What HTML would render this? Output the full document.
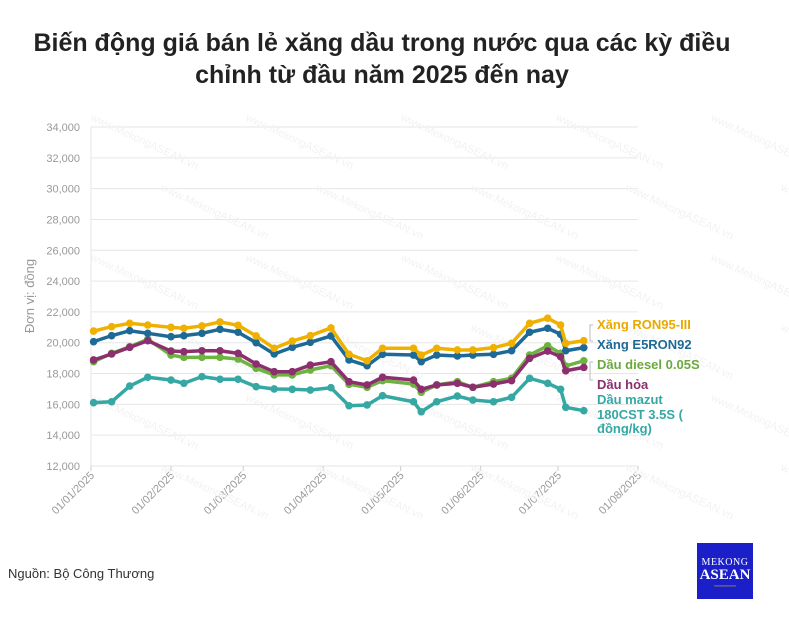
<!DOCTYPE html>
<html><head><meta charset="utf-8"><style>
body{margin:0;width:789px;height:639px;background:#fff;font-family:"Liberation Sans","Noto Sans CJK SC",sans-serif;overflow:hidden;position:relative}
#title{position:absolute;left:0;width:764px;top:27px;text-align:center;font-weight:bold;font-size:25px;line-height:32px;color:#222}
#src{position:absolute;left:8px;top:566px;font-size:13px;color:#333}
#logo{position:absolute;left:697px;top:543px;width:56px;height:56px;background:#1a1fc8;color:#fff;text-align:center;font-family:"Liberation Serif",serif}
</style></head><body>
<div id="title">Biến động giá bán lẻ xăng dầu trong nước qua các kỳ điều<br>chỉnh từ đầu năm 2025 đến nay</div>
<svg id="chart" width="789" height="639" style="position:absolute;left:0;top:0"></svg>
<div id="src">Nguồn: Bộ Công Thương</div>
<div id="logo"><div style="font-size:10px;margin-top:14px;letter-spacing:0.5px">MEKONG</div><div style="font-size:15px;font-weight:bold;line-height:15px">ASEAN</div><div style="font-size:3px;color:#f5d000;margin-top:1px">━━━━━━━━━━━━</div></div>
<script>
const dayOffsets=[1,8,15,22,31,36,43,50,57,64,71,78,85,93,100,107,113,125,128,134,142,148,156,163,170,177,182,184,191];
const ron95=[20760,21040,21260,21150,21000,20940,21090,21350,21130,20440,19640,20110,20460,20960,19250,18830,19640,19640,19200,19640,19530,19530,19680,19960,21260,21590,21150,19960,20130];
const e5=[20070,20460,20780,20610,20390,20460,20610,20870,20680,20000,19270,19700,20030,20440,18880,18510,19250,19200,18770,19200,19140,19200,19250,19480,20680,20940,20550,19480,19680];
const diesel=[18770,19310,19740,20220,19200,19050,19050,19050,18940,18340,17910,17910,18230,18510,17300,17110,17540,17320,16780,17260,17470,17110,17470,17690,19200,19800,19310,18490,18830];
const kerosene=[18880,19270,19700,20130,19460,19420,19480,19480,19310,18620,18120,18120,18550,18770,17470,17260,17760,17580,16980,17260,17370,17110,17320,17540,18990,19460,19090,18180,18400];
const mazut=[16110,16170,17190,17760,17580,17370,17800,17630,17630,17150,17000,16980,16930,17080,15910,15960,16560,16170,15520,16170,16540,16280,16170,16460,17690,17370,16980,15810,15590];
const yTicks=[12000,14000,16000,18000,20000,22000,24000,26000,28000,30000,32000,34000];
const xTickLabels=["01/01/2025","01/02/2025","01/03/2025","01/04/2025","01/05/2025","01/06/2025","01/07/2025","01/08/2025"];
const xTickDays=[0,31,59,90,120,151,181,212];
const X0=91,X1=638,Y0=466,Y1=127;
const xs=d=>X0+(X1-X0)*d/212;
const ys=v=>Y0-(Y0-Y1)*(v-12000)/22000;
const svg=document.getElementById('chart');const NS='http://www.w3.org/2000/svg';
function mk(t,a){const e=document.createElementNS(NS,t);for(const k in a)e.setAttribute(k,a[k]);svg.appendChild(e);return e;}
yTicks.forEach(v=>{
 const l=mk('line',{x1:X0,x2:X1,y1:ys(v),y2:ys(v),stroke:'#e6e6e6','stroke-width':1});
 
 
 const t=mk('text',{x:80,y:ys(v)+4,'text-anchor':'end','font-size':11,fill:'#999'});t.textContent=v.toLocaleString('en-US');
 
 
});
const ax=mk('line',{x1:X0,x2:X0,y1:Y1,y2:Y0,stroke:'#e6e6e6'});


xTickLabels.forEach((s,i)=>{
 const x=xs(xTickDays[i]);
 const tk=mk('line',{x1:x,x2:x,y1:Y0,y2:Y0+5,stroke:'#ccc'});
 
 
 const t=mk('text',{x:x+4,y:Y0+10,'text-anchor':'end','font-size':11,fill:'#999',transform:`rotate(-45 ${x+4} ${Y0+10})`});t.textContent=s;
 
 
});
const yt=mk('text',{x:34,y:296,'text-anchor':'middle','font-size':13,fill:'#999',transform:'rotate(-90 34 296)'});yt.textContent='Đơn vị: đồng';


for(let r=0;r<6;r++)for(let c=0;c<5;c++){const x=90+c*155+(r%2)*70,y=120+r*70;const w=mk('text',{x:x,y:y,'font-size':11,fill:'#f2f2f2',transform:`rotate(25 ${x} ${y})`});w.textContent='www.MekongASEAN.vn';
 
 }
const series=[[mazut,'#35a8a4','mazut'],[diesel,'#6db33f','diesel'],[kerosene,'#8b2f6e','kerosene'],[e5,'#1e6a96','e5'],[ron95,'#f0b000','ron95']];
series.forEach(([vals,col,nm])=>{
 const p=mk('polyline',{points:vals.map((v,i)=>xs(dayOffsets[i])+','+ys(v)).join(' '),fill:'none',stroke:col,'stroke-width':3.5,'stroke-linejoin':'round'});
 
 
 vals.forEach((v,i)=>{const c=mk('circle',{cx:xs(dayOffsets[i]),cy:ys(v),r:3.8,fill:col});
 
 });
});
const labels=[['Xăng RON95-III','#e8a900',329],['Xăng E5RON92','#1e6a96',349],['Dầu diesel 0.05S','#6aaa3a',369],['Dầu hỏa','#8b2f6e',389],['Dầu mazut','#35a8a4',404],['180CST 3.5S (','#35a8a4',419],['đồng/kg)','#35a8a4',433]];
labels.forEach(([s,c,y])=>{const t=mk('text',{x:597,y:y,'font-size':13,'font-weight':'bold',fill:c});t.textContent=s;
 
 });
[[590,325,341],[590,362,380]].forEach(([x,a,b])=>{const p=mk('path',{d:`M${x+3},${a} H${x} V${b} H${x+3}`,fill:'none',stroke:'#bbb'});
 
 });
</script>
</body></html>
